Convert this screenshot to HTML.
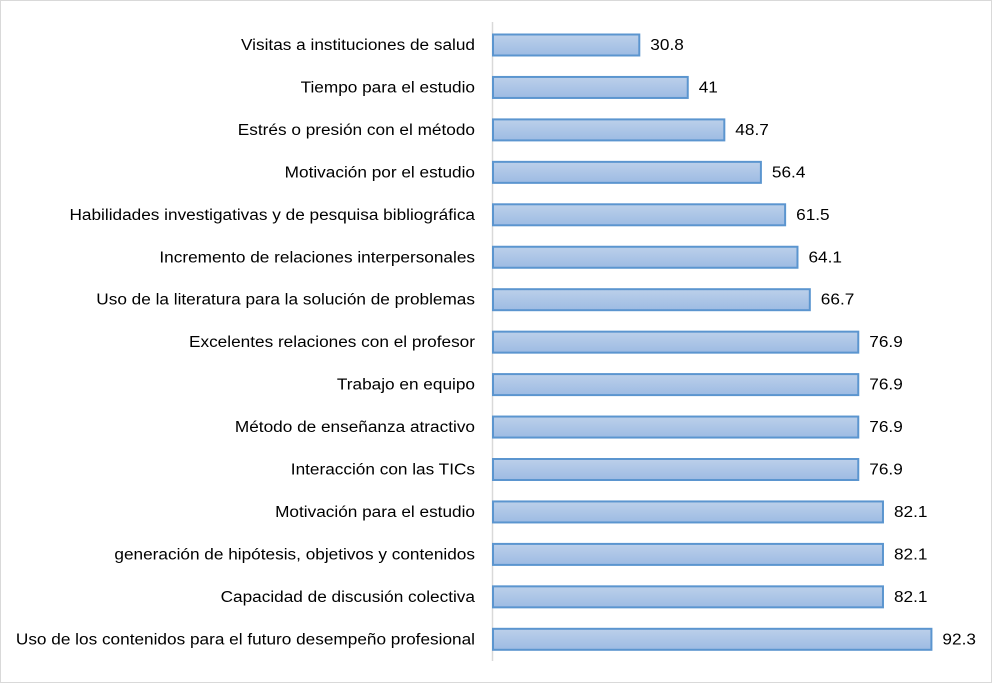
<!DOCTYPE html>
<html><head><meta charset="utf-8"><style>
html,body{margin:0;padding:0;background:#fff;}
svg{display:block;font-family:"Liberation Sans",sans-serif;}
</style></head><body>
<svg width="993" height="685" viewBox="0 0 993 685" xmlns="http://www.w3.org/2000/svg">
<defs><linearGradient id="g" x1="0" y1="0" x2="0" y2="1">
<stop offset="0" stop-color="#bcd0ea"/><stop offset="1" stop-color="#9dbbe3"/></linearGradient></defs>
<rect x="0.5" y="0.5" width="991" height="682" fill="#fff" stroke="#d9d9d9"/>
<line x1="492.5" y1="22" x2="492.5" y2="661" stroke="#d9d9d9" stroke-width="1.5"/>
<g font-size="15.5" fill="#000" id="bars"></g>
</svg>
<script>
var d=[["Visitas a instituciones de salud",30.8],["Tiempo para el estudio",41],["Estrés o presión con el método",48.7],["Motivación por el estudio",56.4],["Habilidades investigativas y de pesquisa bibliográfica",61.5],["Incremento de relaciones interpersonales",64.1],["Uso de la literatura para la solución de problemas",66.7],["Excelentes relaciones con el profesor",76.9],["Trabajo en equipo",76.9],["Método de enseñanza atractivo",76.9],["Interacción con las TICs",76.9],["Motivación para el estudio",82.1],["generación de hipótesis, objetivos y contenidos",82.1],["Capacidad de discusión colectiva",82.1],["Uso de los contenidos para el futuro desempeño profesional",92.3]];
var g=document.getElementById('bars'),s='';
d.forEach(function(e,i){var c=45+i*42.45,w=e[1]*4.75;
s+='<rect x="493" y="'+(c-10.5)+'" width="'+w+'" height="21" fill="url(#g)" stroke="#5b95cf" stroke-width="2"/>';
s+='<text x="475" y="'+(c+5)+'" text-anchor="end">'+e[0]+'</text>';
s+='<text x="'+(493+w+11)+'" y="'+(c+5)+'">'+e[1]+'</text>';});
g.innerHTML=s;
var t=g.getElementsByTagName('text');
for(var k=0;k<t.length;k++){var L=t[k].getComputedTextLength();t[k].setAttribute('textLength',(L*1.11).toFixed(1));t[k].setAttribute('lengthAdjust','spacingAndGlyphs');}
</script>
</body></html>
